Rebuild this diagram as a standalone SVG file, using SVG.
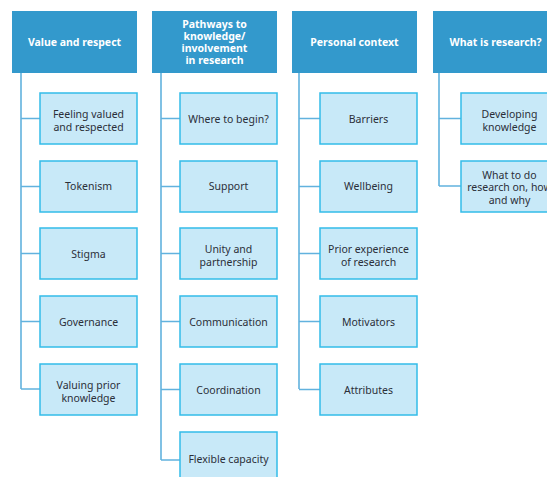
<svg xmlns="http://www.w3.org/2000/svg" width="547" height="477" viewBox="0 0 547 477">
<style>
.hd{fill:#3399cc}
.ch{fill:#c8e9f8;stroke:#33bce9;stroke-width:1.5}
.ht{font-family:"Noto Sans","DejaVu Sans",sans-serif;font-size:10.5px;font-weight:bold;fill:#ffffff;text-anchor:middle}
.ct{font-family:"Noto Sans","DejaVu Sans",sans-serif;font-size:10.5px;fill:#2b2f38;text-anchor:middle}
.cn{fill:none;stroke:#62b2de;stroke-width:1.6}
</style>
<rect width="547" height="477" fill="#ffffff"/>
<g id="connectors">
<path class="cn" d="M21 73V389M21 118.5H40M21 186.5H40M21 253.5H40M21 321.5H40M21 389H40"/>
<path class="cn" d="M161 73V460M161 118.5H180M161 186.5H180M161 253.5H180M161 321.5H180M161 389.5H180M161 460H180"/>
<path class="cn" d="M299 73V389M299 118.5H320M299 186.5H320M299 253.5H320M299 321.5H320M299 389.5H320"/>
<path class="cn" d="M439 73V186M439 118.5H461M439 186H461"/>
</g>
<g id="h1"><rect class="hd" x="12" y="11" width="125" height="62"/><text class="ht" x="74.5" y="46">Value and respect</text></g>
<g id="h2"><rect class="hd" x="152" y="11" width="125" height="62"/><text class="ht" x="214.5" y="28">Pathways to</text><text class="ht" x="214.5" y="40">knowledge/</text><text class="ht" x="214.5" y="52">involvement</text><text class="ht" x="214.5" y="64">in research</text></g>
<g id="h3"><rect class="hd" x="292" y="11" width="125" height="62"/><text class="ht" x="354.5" y="46">Personal context</text></g>
<g id="h4"><rect class="hd" x="433" y="11" width="125" height="62"/><text class="ht" x="495.5" y="46">What is research?</text></g>

<g id="c1a"><rect class="ch" x="40" y="93" width="97" height="51"/><text class="ct" x="88.5" y="118">Feeling valued</text><text class="ct" x="88.5" y="130.5">and respected</text></g>
<g id="c1b"><rect class="ch" x="40" y="161" width="97" height="51"/><text class="ct" x="88.5" y="190">Tokenism</text></g>
<g id="c1c"><rect class="ch" x="40" y="228" width="97" height="51"/><text class="ct" x="88.5" y="257.5">Stigma</text></g>
<g id="c1d"><rect class="ch" x="40" y="296" width="97" height="51"/><text class="ct" x="88.5" y="325.5">Governance</text></g>
<g id="c1e"><rect class="ch" x="40" y="364" width="97" height="51"/><text class="ct" x="88.5" y="389">Valuing prior</text><text class="ct" x="88.5" y="401.5">knowledge</text></g>

<g id="c2a"><rect class="ch" x="180" y="93" width="97" height="51"/><text class="ct" x="228.5" y="122.5">Where to begin?</text></g>
<g id="c2b"><rect class="ch" x="180" y="161" width="97" height="51"/><text class="ct" x="228.5" y="190">Support</text></g>
<g id="c2c"><rect class="ch" x="180" y="228" width="97" height="51"/><text class="ct" x="228.5" y="253">Unity and</text><text class="ct" x="228.5" y="265.5">partnership</text></g>
<g id="c2d"><rect class="ch" x="180" y="296" width="97" height="51"/><text class="ct" x="228.5" y="325.5">Communication</text></g>
<g id="c2e"><rect class="ch" x="180" y="364" width="97" height="51"/><text class="ct" x="228.5" y="393.5">Coordination</text></g>
<g id="c2f"><rect class="ch" x="180" y="432" width="97" height="51"/><text class="ct" x="228.5" y="462.5">Flexible capacity</text></g>

<g id="c3a"><rect class="ch" x="320" y="93" width="97" height="51"/><text class="ct" x="368.5" y="122.5">Barriers</text></g>
<g id="c3b"><rect class="ch" x="320" y="161" width="97" height="51"/><text class="ct" x="368.5" y="190">Wellbeing</text></g>
<g id="c3c"><rect class="ch" x="320" y="228" width="97" height="51"/><text class="ct" x="368.5" y="253">Prior experience</text><text class="ct" x="368.5" y="265.5">of research</text></g>
<g id="c3d"><rect class="ch" x="320" y="296" width="97" height="51"/><text class="ct" x="368.5" y="325.5">Motivators</text></g>
<g id="c3e"><rect class="ch" x="320" y="364" width="97" height="51"/><text class="ct" x="368.5" y="393.5">Attributes</text></g>

<g id="c4a"><rect class="ch" x="461" y="93" width="97" height="51"/><text class="ct" x="509.5" y="118">Developing</text><text class="ct" x="509.5" y="130.5">knowledge</text></g>
<g id="c4b"><rect class="ch" x="461" y="161" width="97" height="51"/><text class="ct" x="509.5" y="178.5">What to do</text><text class="ct" x="509.5" y="191">research on, how</text><text class="ct" x="509.5" y="203.5">and why</text></g>
</svg>
